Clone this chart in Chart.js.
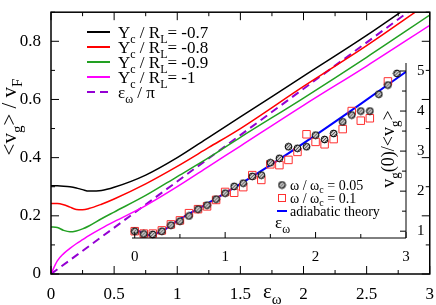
<!DOCTYPE html>
<html>
<head>
<meta charset="utf-8">
<script src="https://cdn.jsdelivr.net/npm/chart.js@4.4.1/dist/chart.umd.min.js"></script>
<style>
  body { margin: 0; background: #fff; }
  #wrap { position: relative; width: 436px; height: 305px; }
  #wrap canvas { position: absolute; left: 0; top: 0; }
</style>
</head>
<body>
<div id="wrap">
  <canvas id="main" width="436" height="305"></canvas>
  <canvas id="inset" width="436" height="305"></canvas>
</div>
<script>
// ---- main panel: <v_g>/v_F against eps_omega ----
var epsMain = [0, 0.05, 0.1, 0.15, 0.2, 0.25, 0.3, 0.4, 0.5, 0.75, 1, 1.25, 1.5, 2, 2.5, 3];
var vBlack   = [0.303, 0.303, 0.302, 0.300, 0.296, 0.290, 0.285, 0.287, 0.298, 0.340, 0.400, 0.470, 0.540, 0.680, 0.820, 0.970];
var vRed     = [0.242, 0.242, 0.238, 0.230, 0.222, 0.221, 0.225, 0.240, 0.258, 0.310, 0.370, 0.435, 0.500, 0.645, 0.785, 0.935];
var vGreen   = [0.162, 0.160, 0.150, 0.145, 0.148, 0.155, 0.165, 0.190, 0.213, 0.270, 0.335, 0.400, 0.470, 0.605, 0.745, 0.890];
var vMagenta = [0.000, 0.045, 0.070, 0.088, 0.104, 0.118, 0.132, 0.157, 0.180, 0.235, 0.300, 0.370, 0.440, 0.580, 0.715, 0.855];
var epsPi = [0, 3];
var vPi   = [0, 0.955];

var xTicks = [0, 0.5, 1, 1.5, 2, 2.5, 3];
var xTickLabels = ['0', '0.5', '1', '1.5', '2', '2.5', '3'];
var yTicks = [0, 0.2, 0.4, 0.6, 0.8];
var yTickLabels = ['0', '0.2', '0.4', '0.6', '0.8'];

var legendRows = [
  [['Y', 0], ['c', 1], [' / R', 0], ['L', 1], ['= -0.7', 0]],
  [['Y', 0], ['c', 1], [' / R', 0], ['L', 1], ['= -0.8', 0]],
  [['Y', 0], ['c', 1], [' / R', 0], ['L', 1], ['= -0.9', 0]],
  [['Y', 0], ['c', 1], [' / R', 0], ['L', 1], ['= -1', 0]],
  [['\u03b5', 0], ['\u03c9', 1], [' / \u03c0', 0]]
];

// ---- inset: v_g(0)/<v_g> against eps_omega ----
var epsTheory = [0, 0.05, 0.1, 0.15, 0.2, 0.3, 0.5, 0.75, 1, 1.5, 2, 2.5, 3];
var theory    = [1.02, 1.00, 0.94, 0.90, 0.91, 1.00, 1.30, 1.62, 1.95, 2.65, 3.40, 4.18, 4.98];

var eps005 = [0, 0.1, 0.2, 0.3, 0.4, 0.5, 0.6, 0.7, 0.8, 0.9, 1.0, 1.1, 1.2, 1.3, 1.4,
              1.5, 1.6, 1.7, 1.8, 1.9, 2.0, 2.1, 2.2, 2.3, 2.4, 2.5, 2.6, 2.7, 2.8, 2.9];
var ratio005 = [1.00, 0.93, 0.92, 1.00, 1.15, 1.25, 1.38, 1.55, 1.65, 1.80, 1.95, 2.12, 2.20, 2.37, 2.40,
                2.71, 2.82, 3.11, 3.07, 3.11, 3.40, 3.29, 3.44, 3.73, 3.90, 4.00, 4.00, 4.42, 4.65, 4.94];
var eps01 = [0, 0.1, 0.2, 0.3, 0.4, 0.5, 0.6, 0.7, 0.8, 0.9, 1.0, 1.1, 1.2, 1.3, 1.4,
             1.5, 1.6, 1.7, 1.8, 1.9, 2.0, 2.1, 2.2, 2.3, 2.4, 2.5, 2.6, 2.8];
var ratio01 = [1.00, 0.94, 0.94, 1.02, 1.17, 1.27, 1.45, 1.55, 1.62, 1.78, 1.98, 1.96, 2.10, 2.40, 2.28,
               2.67, 2.65, 2.78, 2.98, 3.42, 3.23, 3.17, 3.30, 3.55, 4.00, 3.76, 3.82, 4.74];

var insetXTicks = [0, 1, 2, 3];
var insetYTicks = [1, 2, 3, 4, 5];
var insetLegend = [
  [['\u03c9 / \u03c9', 0], ['c', 1], [' = 0.05', 0]],
  [['\u03c9 / \u03c9', 0], ['c', 1], [' = 0.1', 0]],
  [['adiabatic theory', 0]]
];

var SERIF = '"Liberation Serif", "DejaVu Serif", serif';

function pts(xs, ys) {
  return xs.map(function (x, i) { return { x: x, y: ys[i] }; });
}

// draws text with subscripts; parts = [[text, isSub], ...]
function richText(ctx, x, y, parts, size, align) {
  var sub = Math.round(size * 0.7);
  var w = 0;
  parts.forEach(function (p) {
    ctx.font = (p[1] ? sub : size) + 'px ' + SERIF;
    w += ctx.measureText(p[0]).width;
  });
  var cx = align === 'center' ? x - w / 2 : x;
  ctx.textBaseline = 'alphabetic';
  ctx.textAlign = 'left';
  parts.forEach(function (p) {
    ctx.font = (p[1] ? sub : size) + 'px ' + SERIF;
    ctx.fillText(p[0], cx, y + (p[1] ? size * 0.28 : 0));
    cx += ctx.measureText(p[0]).width;
  });
}

function hatchDot() {
  var c = document.createElement('canvas');
  c.width = 9; c.height = 9;
  var g = c.getContext('2d');
  g.beginPath(); g.arc(4.5, 4.5, 3.4, 0, 2 * Math.PI);
  g.fillStyle = '#d4d4d4'; g.fill();
  g.save(); g.clip();
  g.strokeStyle = '#333'; g.lineWidth = 0.9;
  for (var k = -9; k <= 9; k += 3) {
    g.beginPath(); g.moveTo(k, 9); g.lineTo(k + 9, 0); g.stroke();
  }
  g.restore();
  g.beginPath(); g.arc(4.5, 4.5, 3.4, 0, 2 * Math.PI);
  g.strokeStyle = '#000'; g.lineWidth = 1; g.stroke();
  return c;
}
var dot = hatchDot();

var lineColors = ['#000000', '#ff0000', '#22a022', '#ff00ff', '#9400d3'];

// frame, inward ticks, titles and legend of the main panel
var mainDecor = {
  id: 'mainDecor',
  afterDraw: function (chart) {
    var ctx = chart.ctx, a = chart.chartArea;
    var xs = chart.scales.x, ys = chart.scales.y;
    ctx.save();
    ctx.strokeStyle = '#000';
    ctx.lineWidth = 1;
    var v, p, len;
    for (v = 0; v <= 3.001; v += 0.25) {
      p = xs.getPixelForValue(v);
      len = Math.abs(v * 2 - Math.round(v * 2)) < 0.01 ? 8 : 4;
      ctx.beginPath();
      ctx.moveTo(p, a.bottom); ctx.lineTo(p, a.bottom - len);
      ctx.moveTo(p, a.top); ctx.lineTo(p, a.top + len);
      ctx.stroke();
    }
    for (v = 0; v <= 0.901; v += 0.1) {
      p = ys.getPixelForValue(v);
      len = Math.round(v * 10) % 2 === 0 ? 8 : 4;
      ctx.beginPath();
      ctx.moveTo(a.left, p); ctx.lineTo(a.left + len, p);
      ctx.moveTo(a.right, p); ctx.lineTo(a.right - len, p);
      ctx.stroke();
    }
    ctx.lineWidth = 1.5;
    ctx.strokeRect(a.left, a.top, a.right - a.left, a.bottom - a.top);

    ctx.fillStyle = '#000';
    // axis titles
    richText(ctx, 263, 298, [['\u03b5', 0], ['\u03c9', 1]], 21, 'left');
    ctx.save();
    ctx.translate(16, 117);
    ctx.rotate(-Math.PI / 2);
    richText(ctx, 0, 0, [['<v', 0], ['g', 1], ['> / v', 0], ['F', 1]], 21, 'center');
    ctx.restore();

    // legend
    for (var i = 0; i < legendRows.length; i++) {
      var ry = 32 + i * 15;
      ctx.beginPath();
      ctx.strokeStyle = lineColors[i];
      ctx.lineWidth = 2;
      ctx.setLineDash(i === 4 ? [8, 5] : []);
      ctx.moveTo(87, ry); ctx.lineTo(110, ry);
      ctx.stroke();
      ctx.setLineDash([]);
      richText(ctx, 118, ry + 6, legendRows[i], 17, 'left');
    }
    ctx.restore();
  }
};

new Chart(document.getElementById('main'), {
  type: 'line',
  data: {
    datasets: [
      { data: pts(epsMain, vBlack), borderColor: lineColors[0], borderWidth: 1.5 },
      { data: pts(epsMain, vRed), borderColor: lineColors[1], borderWidth: 1.5 },
      { data: pts(epsMain, vGreen), borderColor: lineColors[2], borderWidth: 1.5 },
      { data: pts(epsMain, vMagenta), borderColor: lineColors[3], borderWidth: 1.5 },
      { data: pts(epsPi, vPi), borderColor: lineColors[4], borderWidth: 2, borderDash: [8, 5] }
    ]
  },
  options: {
    responsive: false,
    animation: false,
    elements: { point: { radius: 0 }, line: { cubicInterpolationMode: 'monotone' } },
    layout: { padding: { left: 0, right: 4, top: 2, bottom: 0 } },
    plugins: { legend: { display: false }, tooltip: { enabled: false } },
    scales: {
      x: {
        type: 'linear', min: 0, max: 3,
        grid: { display: false }, border: { display: false },
        afterBuildTicks: function (s) { s.ticks = xTicks.map(function (v) { return { value: v }; }); },
        ticks: {
          padding: 2, color: '#000', maxRotation: 0, autoSkip: false,
          font: { family: SERIF, size: 17 },
          callback: function (v, i) { return xTickLabels[i]; }
        },
        afterFit: function (s) { s.height = 31; }
      },
      y: {
        min: 0, max: 0.9,
        grid: { display: false }, border: { display: false },
        afterBuildTicks: function (s) { s.ticks = yTicks.map(function (v) { return { value: v }; }); },
        ticks: {
          padding: 2, color: '#000', autoSkip: false,
          font: { family: SERIF, size: 17 },
          callback: function (v, i) { return yTickLabels[i]; }
        },
        afterFit: function (s) { s.width = 51; }
      }
    }
  },
  plugins: [mainDecor]
});

// axes, titles and legend of the inset
var insetDecor = {
  id: 'insetDecor',
  afterDraw: function (chart) {
    var ctx = chart.ctx, a = chart.chartArea;
    var xs = chart.scales.x, ys = chart.scales.y;
    ctx.save();
    ctx.strokeStyle = '#000';
    ctx.lineWidth = 1;
    ctx.beginPath();
    ctx.moveTo(a.left, a.bottom); ctx.lineTo(a.right, a.bottom); ctx.lineTo(a.right, a.top);
    ctx.stroke();
    var v, p, len;
    for (v = 0; v <= 3.001; v += 0.5) {
      p = xs.getPixelForValue(v);
      len = Math.abs(v - Math.round(v)) < 0.01 ? 6 : 4;
      ctx.beginPath(); ctx.moveTo(p, a.bottom); ctx.lineTo(p, a.bottom - len); ctx.stroke();
    }
    for (v = 1; v <= 5.001; v += 0.5) {
      p = ys.getPixelForValue(v);
      len = Math.abs(v - Math.round(v)) < 0.01 ? 6 : 4;
      ctx.beginPath(); ctx.moveTo(a.right, p); ctx.lineTo(a.right - len, p); ctx.stroke();
    }

    ctx.fillStyle = '#000';
    richText(ctx, 275, 228, [['\u03b5', 0], ['\u03c9', 1]], 17, 'left');
    ctx.save();
    ctx.translate(394, 149);
    ctx.rotate(-Math.PI / 2);
    richText(ctx, 0, 0, [['v', 0], ['g', 1], ['(0)/<v', 0], ['g', 1], ['>', 0]], 18, 'center');
    ctx.restore();

    // legend
    ctx.drawImage(dot, 282 - 4.5, 185 - 4.5);
    ctx.strokeStyle = '#ff3030';
    ctx.strokeRect(278.5, 194.5, 7, 7);
    ctx.strokeStyle = '#0000ff';
    ctx.lineWidth = 2;
    ctx.beginPath(); ctx.moveTo(277, 211); ctx.lineTo(287, 211); ctx.stroke();
    for (var i = 0; i < insetLegend.length; i++) {
      richText(ctx, 290, 189.5 + i * 13, insetLegend[i], 14, 'left');
    }
    ctx.restore();
  }
};

new Chart(document.getElementById('inset'), {
  type: 'scatter',
  data: {
    datasets: [
      { data: pts(eps005, ratio005), pointStyle: dot, pointRadius: 4, clip: false },
      { data: pts(eps01, ratio01), pointStyle: 'rect', pointRadius: 5.3, borderColor: '#ff3030',
        backgroundColor: 'rgba(0,0,0,0)', borderWidth: 1, clip: false },
      { type: 'line', data: pts(epsTheory, theory), borderColor: '#0000ff', borderWidth: 2,
        pointRadius: 0, showLine: true, cubicInterpolationMode: 'monotone' }
    ]
  },
  options: {
    responsive: false,
    animation: false,
    layout: { padding: { left: 132, right: 0, top: 63, bottom: 0 } },
    plugins: { legend: { display: false }, tooltip: { enabled: false } },
    scales: {
      x: {
        type: 'linear', min: -0.03, max: 3,
        grid: { display: false }, border: { display: false },
        afterBuildTicks: function (s) { s.ticks = insetXTicks.map(function (v) { return { value: v }; }); },
        ticks: { padding: 2, color: '#000', maxRotation: 0, autoSkip: false, font: { family: SERIF, size: 15 } },
        afterFit: function (s) { s.height = 67; }
      },
      y: {
        position: 'right', min: 0.83, max: 5.2,
        grid: { display: false }, border: { display: false },
        afterBuildTicks: function (s) { s.ticks = insetYTicks.map(function (v) { return { value: v }; }); },
        ticks: { padding: 3, color: '#000', autoSkip: false, font: { family: SERIF, size: 15 } },
        afterFit: function (s) { s.width = 30; }
      }
    }
  },
  plugins: [insetDecor]
});
</script>
</body>
</html>
